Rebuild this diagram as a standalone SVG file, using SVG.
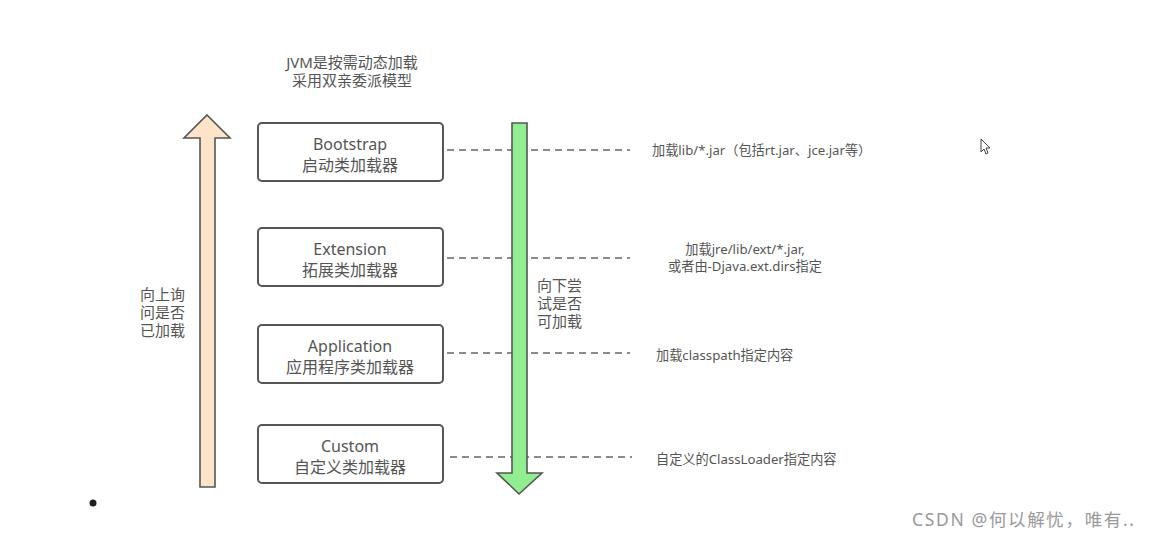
<svg xmlns="http://www.w3.org/2000/svg" width="1149" height="537" viewBox="0 0 1149 537">
<style>
text{font-family:"Noto Sans","Noto Sans CJK SC",sans-serif;fill:#555}
.box{fill:#fff;stroke:#555;stroke-width:2}
.t16{font-size:16px;text-anchor:middle}
.t15{font-size:15px}
.t13{font-size:13.2px}
.dash{stroke:#666;stroke-width:1.6;stroke-dasharray:7 5;fill:none}
</style>
<rect width="1149" height="537" fill="#fff"/>
<g id="title">
<text class="t16" x="352" y="68" style="font-size:15px">JVM是按需动态加载</text>
<text class="t16" x="352" y="86" style="font-size:15px">采用双亲委派模型</text>
</g>
<g id="connectors">
<line class="dash" x1="447" y1="150" x2="630" y2="150"/>
<line class="dash" x1="447" y1="258" x2="630" y2="258"/>
<line class="dash" x1="447" y1="353" x2="630" y2="353"/>
<line class="dash" x1="450" y1="457" x2="632" y2="457"/>
<g id="up-arrow"><polygon points="207,115 230,138 215,138 215,487 200,487 200,138 184,138" fill="#fde3c8" stroke="#555" stroke-width="1.6"/></g>
<g id="down-arrow"><polygon points="512,123 527,123 527,473 542,473 519,494 497,473 512,473" fill="#90ee90" stroke="#555" stroke-width="1.6"/></g>
</g>
<g id="bootstrap"><rect class="box" x="258" y="123" width="185" height="58" rx="4"/>
<text class="t16" x="350" y="150">Bootstrap</text><text class="t16" x="350" y="171">启动类加载器</text></g>
<g id="extension"><rect class="box" x="258" y="228" width="185" height="58" rx="4"/>
<text class="t16" x="350" y="255">Extension</text><text class="t16" x="350" y="276">拓展类加载器</text></g>
<g id="application"><rect class="box" x="258" y="325" width="185" height="58" rx="4"/>
<text class="t16" x="350" y="352">Application</text><text class="t16" x="350" y="373">应用程序类加载器</text></g>
<g id="custom"><rect class="box" x="258" y="425" width="185" height="58" rx="4"/>
<text class="t16" x="350" y="452">Custom</text><text class="t16" x="350" y="473">自定义类加载器</text></g>
<g id="up-label">
<text class="t15" x="140" y="300">向上询</text>
<text class="t15" x="140" y="318">问是否</text>
<text class="t15" x="140" y="336">已加载</text>
</g>
<g id="down-label">
<text class="t15" x="537" y="291">向下尝</text>
<text class="t15" x="537" y="309">试是否</text>
<text class="t15" x="537" y="327">可加载</text>
</g>
<g id="notes">
<text class="t13" x="652" y="155">加载lib/*.jar（包括rt.jar、jce.jar等）</text>
<text class="t13" x="745" y="254" text-anchor="middle">加载jre/lib/ext/*.jar,</text>
<text class="t13" x="745" y="271" text-anchor="middle">或者由-Djava.ext.dirs指定</text>
<text class="t13" x="656" y="360">加载classpath指定内容</text>
<text class="t13" x="656" y="464">自定义的ClassLoader指定内容</text>
</g>
<circle cx="93" cy="503" r="3.5" fill="#222"/>
<polygon points="981,139 981,152 984,149 986,154 988,153 986,148 990,148" fill="#fff" stroke="#444" stroke-width="1"/>
<text x="912" y="526" textLength="222" lengthAdjust="spacing" style="font-size:17.5px;fill:#999">CSDN @何以解忧，唯有..</text>
</svg>
